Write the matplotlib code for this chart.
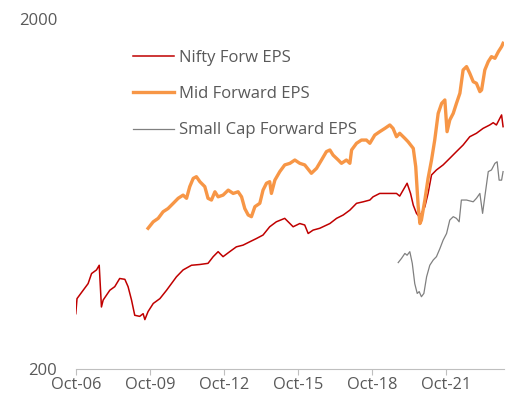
import numpy as np
import matplotlib
matplotlib.use("Agg")
import matplotlib.pyplot as plt

# decimal years, values (log scale)
nifty_x = [2006.75, 2006.80, 2007.05, 2007.25, 2007.39, 2007.59, 2007.70, 2007.79, 2007.86, 2008.13,
           2008.33, 2008.53, 2008.74, 2008.87, 2009.01, 2009.14, 2009.34, 2009.48, 2009.55, 2009.68,
           2009.89, 2010.16, 2010.43, 2010.83, 2011.10, 2011.44, 2011.78, 2012.11, 2012.32, 2012.52,
           2012.72, 2012.99, 2013.26, 2013.53, 2013.80, 2014.07, 2014.34, 2014.61, 2014.88, 2015.22,
           2015.43, 2015.56, 2015.83, 2016.03, 2016.17, 2016.37, 2016.64, 2017.05, 2017.32, 2017.59,
           2017.86, 2018.13, 2018.40, 2018.67, 2018.80, 2019.07, 2019.41, 2019.75, 2019.88, 2020.02,
           2020.18, 2020.32, 2020.43, 2020.56, 2020.67, 2020.76, 2020.90, 2021.03, 2021.17, 2021.37,
           2021.64, 2021.91, 2022.18, 2022.45, 2022.72, 2022.99, 2023.26, 2023.53, 2023.67, 2023.80,
           2023.94, 2024.01, 2024.07]
nifty_y = [288, 318, 336, 351, 375, 384, 396, 301, 315, 336,
           344, 363, 361, 344, 315, 285, 283, 288, 277, 292,
           308, 318, 336, 367, 384, 396, 398, 401, 419, 433,
           419, 433, 447, 452, 462, 472, 483, 510, 527, 539,
           521, 510, 521, 516, 488, 499, 505, 521, 539, 551,
           569, 595, 601, 608, 621, 635, 635, 635, 624, 649,
           679, 635, 588, 557, 545, 557, 582, 635, 717, 741,
           766, 800, 836, 873, 922, 943, 974, 996, 1011, 996,
           1041, 1064, 985]

mid_x = [2009.68, 2009.89, 2010.09, 2010.29, 2010.49, 2010.70, 2010.90, 2011.10, 2011.24, 2011.37,
         2011.51, 2011.64, 2011.78, 2011.98, 2012.11, 2012.25, 2012.39, 2012.52, 2012.72, 2012.93,
         2013.13, 2013.33, 2013.47, 2013.60, 2013.74, 2013.87, 2014.01, 2014.21, 2014.34, 2014.48,
         2014.61, 2014.68, 2014.82, 2015.02, 2015.22, 2015.43, 2015.63, 2015.83, 2016.03, 2016.30,
         2016.51, 2016.71, 2016.91, 2017.05, 2017.18, 2017.39, 2017.52, 2017.72, 2017.86, 2017.93,
         2018.13, 2018.33, 2018.53, 2018.67, 2018.87, 2019.07, 2019.28, 2019.48, 2019.61, 2019.75,
         2019.88, 2020.09, 2020.22, 2020.43, 2020.53, 2020.63, 2020.70, 2020.76, 2020.90, 2021.03,
         2021.17, 2021.30, 2021.44, 2021.58, 2021.71, 2021.80, 2021.91, 2022.05, 2022.18, 2022.32,
         2022.45, 2022.59, 2022.72, 2022.86, 2022.99, 2023.13, 2023.20, 2023.33, 2023.47, 2023.60,
         2023.74, 2023.88, 2024.01, 2024.07]
mid_y = [505, 527, 539, 563, 575, 595, 615, 628, 615, 664,
         701, 709, 686, 664, 615, 608, 642, 621, 628, 649,
         635, 642, 621, 575, 551, 545, 582, 595, 649, 679,
         686, 635, 693, 733, 766, 774, 791, 774, 766, 725,
         749, 791, 836, 845, 817, 791, 774, 791, 774, 845,
         883, 902, 902, 883, 932, 953, 974, 996, 974, 922,
         943, 912, 892, 854, 757, 582, 521, 533, 608, 701,
         791, 902, 1075, 1148, 1174, 953, 1029, 1075, 1148, 1227,
         1430, 1462, 1399, 1324, 1310, 1240, 1254, 1430, 1511, 1561,
         1544, 1613, 1667, 1704]

small_x = [2019.82, 2019.95, 2020.09, 2020.18, 2020.29, 2020.39, 2020.49, 2020.59, 2020.67, 2020.76,
           2020.86, 2020.97, 2021.10, 2021.24, 2021.37, 2021.51, 2021.64, 2021.78, 2021.91, 2022.05,
           2022.18, 2022.29, 2022.38, 2022.59, 2022.86, 2022.99, 2023.13, 2023.24, 2023.33, 2023.47,
           2023.60, 2023.74, 2023.83, 2023.91, 2024.01, 2024.07]
small_y = [403, 414, 428, 423, 433, 401, 351, 329, 333, 322,
           329, 367, 396, 410, 419, 442, 467, 488, 533, 545,
           539, 527, 608, 608, 601, 615, 635, 557, 621, 733,
           741, 774, 782, 693, 693, 733]

tick_pos = [2006.75, 2009.75, 2012.75, 2015.75, 2018.75, 2021.75]
tick_labels = ["Oct-06", "Oct-09", "Oct-12", "Oct-15", "Oct-18", "Oct-21"]

plt.rcParams['font.family'] = ['Open Sans', 'DejaVu Sans']

fig = plt.figure(figsize=(5.12, 4.03), dpi=100)
ax = fig.add_axes([0.148, 0.084, 0.836, 0.869])

ax.plot(nifty_x, nifty_y, color="#c00000", lw=1.1, label="Nifty Forw EPS")
ax.plot(mid_x, mid_y, color="#f79646", lw=2.4, label="Mid Forward EPS")
ax.plot(small_x, small_y, color="#808080", lw=0.9, label="Small Cap Forward EPS")

ax.set_yscale("log")
ax.set_ylim(200, 2000)
ax.set_xlim(2006.75, 2024.1)
ax.set_yticks([200, 2000])
ax.set_yticklabels(["200", "2000"])
ax.yaxis.set_minor_locator(matplotlib.ticker.NullLocator())
ax.tick_params(axis="y", length=0, pad=13.5, labelsize=12, labelcolor="#595959")

ax.set_xticks(tick_pos)
ax.set_xticklabels(tick_labels)
ax.tick_params(axis="x", direction="out", length=4, color="#bfbfbf", pad=2,
               labelsize=11.8, labelcolor="#595959")

for s in ["top", "right", "left"]:
    ax.spines[s].set_visible(False)
ax.spines["bottom"].set_color("#bfbfbf")
ax.spines["bottom"].set_linewidth(0.8)

leg = ax.legend(loc="upper left", bbox_to_anchor=(0.133, 0.912), frameon=False,
                borderpad=0, borderaxespad=0, handlelength=2.5, handletextpad=0.3,
                labelspacing=1.22, fontsize=12)
for t in leg.get_texts():
    t.set_color("#595959")

fig.savefig("out.png", dpi=100)
